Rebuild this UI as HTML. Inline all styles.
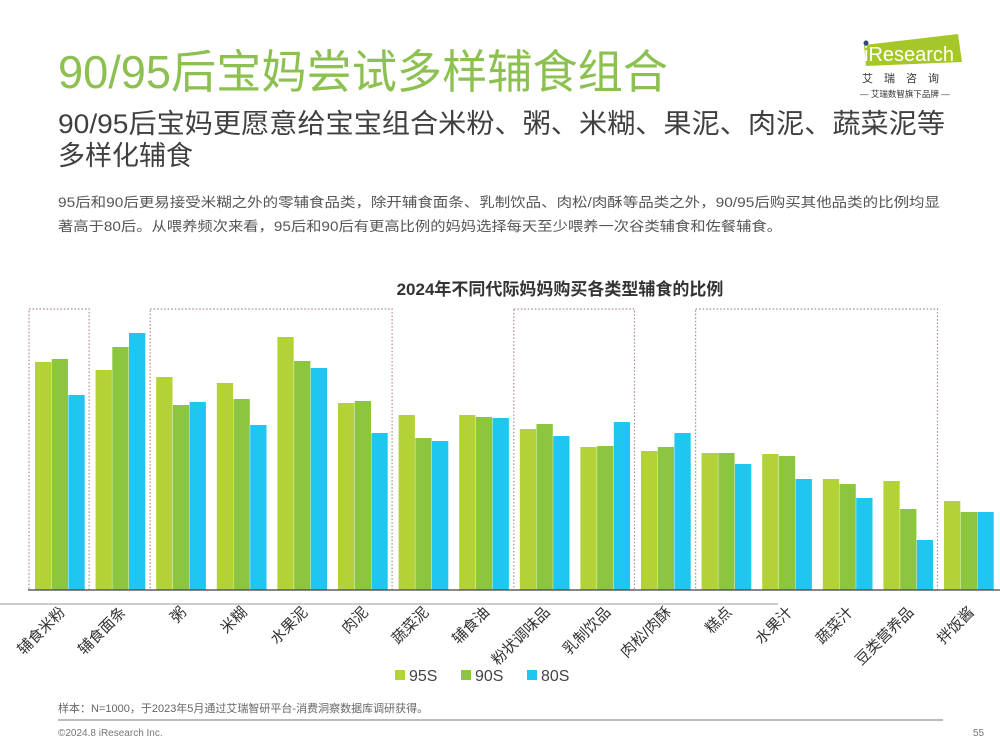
<!DOCTYPE html>
<html><head><meta charset="utf-8"><style>
html,body{margin:0;padding:0;background:#fff;}
svg{display:block;font-family:"Liberation Sans","Noto Sans CJK SC",sans-serif;}
</style></head><body>
<svg id="chart" width="1000" height="750" viewBox="0 0 1000 750" xmlns="http://www.w3.org/2000/svg">
<text x="58" y="88" font-size="46" fill="#8cc151" textLength="610" lengthAdjust="spacingAndGlyphs">90/95后宝妈尝试多样辅食组合</text>
<text x="58" y="133" font-size="27" fill="#404040" textLength="887" lengthAdjust="spacingAndGlyphs">90/95后宝妈更愿意给宝宝组合米粉、粥、米糊、果泥、肉泥、蔬菜泥等</text>
<text x="58" y="165" font-size="27" fill="#404040">多样化辅食</text>
<text x="58" y="207" font-size="13.5" fill="#555" textLength="882" lengthAdjust="spacingAndGlyphs">95后和90后更易接受米糊之外的零辅食品类，除开辅食面条、乳制饮品、肉松/肉酥等品类之外，90/95后购买其他品类的比例均显</text>
<text x="58" y="231" font-size="13.5" fill="#555" textLength="724" lengthAdjust="spacingAndGlyphs">著高于80后。从喂养频次来看，95后和90后有更高比例的妈妈选择每天至少喂养一次谷类辅食和佐餐辅食。</text>
<g>
<polygon points="864,45 958,34 962,62 866,66" fill="#a6c72a"/>
<circle cx="866" cy="43" r="2.5" fill="#2d4a7a"/>
<text x="864" y="61" font-size="20" fill="#fff">iResearch</text>
<text x="862" y="82" font-size="11" fill="#333" letter-spacing="11">艾瑞咨询</text>
<text x="860" y="97" font-size="8.5" fill="#333">— 艾瑞数智旗下品牌 —</text>
</g>
<text x="560" y="295" font-size="17" font-weight="bold" fill="#333" text-anchor="middle">2024年不同代际妈妈购买各类型辅食的比例</text>
<g id="boxes"></g>
<g id="bars"></g>
<line x1="28" y1="590" x2="1000" y2="590" stroke="#444" stroke-width="1.2"/>
<line x1="0" y1="604" x2="778" y2="604" stroke="#999" stroke-width="1"/>
<g id="labels"></g>
<g id="legend"></g>
<text x="58" y="712" font-size="11" fill="#666">样本：N=1000，于2023年5月通过艾瑞智研平台-消费洞察数据库调研获得。</text>
<line x1="58" y1="720" x2="943" y2="720" stroke="#777" stroke-width="1"/>
<text x="58" y="736" font-size="10" fill="#777">©2024.8 iResearch Inc.</text>
<text x="973" y="736" font-size="10" fill="#777">55</text>
</svg>
<script>
const categories = ["辅食米粉","辅食面条","粥","米糊","水果泥","肉泥","蔬菜泥","辅食油","粉状调味品","乳制饮品","肉松/肉酥","糕点","水果汁","蔬菜汁","豆类营养品","拌饭酱"];
const seriesNames = ["95S","90S","80S"];
const s95 = [228,220,213,207,253,187,175,175,161,143,139,137,136,111,109,89];
const s90 = [231,243,185,191,229,189,152,173,166,144,143,137,134,106,81,78];
const s80 = [195,257,188,165,222,157,149,172,154,168,157,126,111,92,50,78];
const seriesColors = ["#b2d235","#8cc63f","#1ec6f0"];
const highlightGroups = [[0,0],[2,5],[8,9],[11,14]];

const NS = "http://www.w3.org/2000/svg";
const baseY = 590, x0 = 35, pitch = 60.6, bw = 16.7;
const yScale = v => baseY - v;
const groupX = i => x0 + i * pitch;
function mk(tag, attrs, parent){ const e = document.createElementNS(NS, tag); for (const k in attrs) e.setAttribute(k, attrs[k]); parent.appendChild(e); return e; }

const boxes = document.getElementById('boxes');
highlightGroups.forEach(([a,b]) => {
  const r = mk('rect', {x: groupX(a) - 6, y: 309, width: groupX(b) - groupX(a) + 3*bw + 10, height: baseY - 309, fill: 'none', stroke: '#b08a90', 'stroke-width': 1.2, 'stroke-dasharray': '1.5 2'}, boxes);
  
  
});

const barsG = document.getElementById('bars');
const series = [s95, s90, s80];
categories.forEach((c, i) => {
  series.forEach((s, k) => {
    const r = mk('rect', {x: groupX(i) + k*bw, y: yScale(s[i]), width: bw - 0.4, height: baseY - yScale(s[i]), fill: seriesColors[k]}, barsG);
    
    
  });
});

const labelsG = document.getElementById('labels');
categories.forEach((c, i) => {
  const cx = groupX(i) + 1.5*bw + 6, cy = 613;
  const t = mk('text', {x: cx, y: cy, 'font-size': 15, fill: '#333', 'text-anchor': 'end', transform: `rotate(-45 ${cx} ${cy})`}, labelsG);
  t.textContent = c;
  
  
});

const legendG = document.getElementById('legend');
const legendX = [395, 461, 527];
seriesNames.forEach((n, k) => {
  const g = mk('g', {}, legendG);
  
  
  mk('rect', {x: legendX[k], y: 670, width: 10, height: 10, fill: seriesColors[k]}, g);
  const t = mk('text', {x: legendX[k] + 14, y: 681, 'font-size': 16, fill: '#444'}, g);
  t.textContent = n;
});
</script>
</body></html>
